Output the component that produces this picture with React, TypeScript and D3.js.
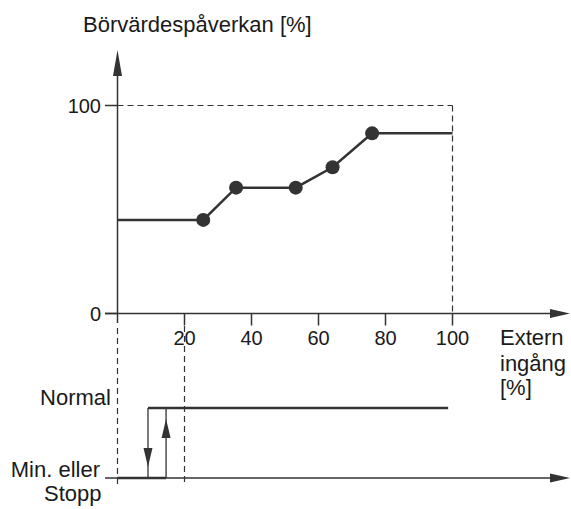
import React from "react";
import * as d3 from "d3";

const xTicks = [20, 40, 60, 80, 100];
const yTicks = [0, 100];
const curveX = [0, 25.6, 35.4, 53.2, 64.2, 76, 100];
const curveY = [45, 45, 60.5, 60.5, 70.3, 86.6, 86.6];
const markerIdx = [1, 2, 3, 4, 5];
const states = ["Normal", "Min"];
const switchOff = 9.1; // Normal -> Min
const switchOn = 14.5; // Min -> Normal
const normalEnd = 98.7;
const refLine = 20;

const W = 571;
const H = 509;
const INK = "#333";
const TXT = "#1a1a1a";
const FONT = "'Liberation Sans', Arial, sans-serif";

export default function App() {
  const x = d3.scaleLinear().domain([0, 100]).range([117.5, 452.5]);
  const y = d3.scaleLinear().domain([0, 100]).range([313.5, 105.5]);
  const sy = d3.scalePoint<string>().domain(states).range([408, 478]);

  const pts = curveX.map((v, i) => [x(v), y(curveY[i])] as [number, number]);
  const line = d3.line()(pts) || "";

  const x0 = x(0);
  const y0 = y(0);
  const yN = sy("Normal")!;
  const yM = sy("Min")!;
  const axisEnd = 570;
  const dash = "6,4";

  const arrowRight = (yy: number) =>
    `M${axisEnd},${yy} L${axisEnd - 20},${yy - 4.5} L${axisEnd - 20},${yy + 4.5} Z`;

  return (
    <svg width={W} height={H} style={{ position: "absolute", left: 0, top: 0, background: "#fff" }} fontFamily={FONT}>
      {/* title */}
      <text x={83} y={32} fontSize={22} fill={TXT}>Börvärdespåverkan [%]</text>

      {/* y axis */}
      <line x1={x0} x2={x0} y1={72} y2={323} stroke={INK} strokeWidth={1.5} />
      <path d={`M${x0},50 L${x0 - 4.5},76 L${x0 + 4.5},76 Z`} fill={INK} />
      {yTicks.map((t) => (
        <g key={"yt" + t}>
          <line x1={105} x2={x0} y1={y(t)} y2={y(t)} stroke={INK} strokeWidth={1.5} />
          <text x={101} y={y(t)} dy="0.35em" textAnchor="end" fontSize={20} fill={TXT}>{t}</text>
        </g>
      ))}

      {/* dashed frame */}
      <line x1={x0} x2={x(100)} y1={y(100)} y2={y(100)} stroke={INK} strokeWidth={1.2} strokeDasharray={dash} />
      <line x1={x(100)} x2={x(100)} y1={y(100)} y2={y0} stroke={INK} strokeWidth={1.2} strokeDasharray={dash} />

      {/* x axis */}
      <line x1={105} x2={axisEnd - 18} y1={y0} y2={y0} stroke={INK} strokeWidth={1.5} />
      <path d={arrowRight(y0)} fill={INK} />
      {xTicks.map((t) => (
        <g key={"xt" + t}>
          <line x1={x(t)} x2={x(t)} y1={y0} y2={y0 + 12} stroke={INK} strokeWidth={1.5} />
          <text x={x(t)} y={345} textAnchor="middle" fontSize={20} fill={TXT}>{t}</text>
        </g>
      ))}
      <text x={500} y={345} fontSize={22} fill={TXT}>Extern</text>
      <text x={500} y={371} fontSize={22} fill={TXT}>ingång</text>
      <text x={500} y={395} fontSize={22} fill={TXT}>[%]</text>

      {/* curve */}
      <path d={line} fill="none" stroke={INK} strokeWidth={2.5} />
      {markerIdx.map((i) => (
        <circle key={"m" + i} cx={pts[i][0]} cy={pts[i][1]} r={7} fill={INK} />
      ))}

      {/* lower panel dashed verticals */}
      <line x1={x0} x2={x0} y1={328} y2={486} stroke={INK} strokeWidth={1.2} strokeDasharray={dash} />
      <line x1={x(refLine)} x2={x(refLine)} y1={326} y2={486} stroke={INK} strokeWidth={1.2} strokeDasharray={dash} />

      {/* state labels */}
      <text x={111} y={405} textAnchor="end" fontSize={22} fill={TXT}>Normal</text>
      <text x={100} y={477} textAnchor="end" fontSize={22} fill={TXT}>Min. eller</text>
      <text x={44} y={501} fontSize={22} fill={TXT}>Stopp</text>

      {/* bottom axis */}
      <line x1={105} x2={axisEnd - 18} y1={yM} y2={yM} stroke={INK} strokeWidth={1.5} />
      <path d={arrowRight(yM)} fill={INK} />

      {/* hysteresis */}
      <line x1={x(0)} x2={x(switchOn)} y1={yM} y2={yM} stroke={INK} strokeWidth={2.5} />
      <line x1={x(switchOff)} x2={x(normalEnd)} y1={yN} y2={yN} stroke={INK} strokeWidth={2.5} />
      <line x1={x(switchOff)} x2={x(switchOff)} y1={yN} y2={yM} stroke={INK} strokeWidth={1.3} />
      <path d={`M${x(switchOff)},467 L${x(switchOff) - 4.5},448 L${x(switchOff) + 4.5},448 Z`} fill={INK} />
      <line x1={x(switchOn)} x2={x(switchOn)} y1={yN} y2={yM} stroke={INK} strokeWidth={1.3} />
      <path d={`M${x(switchOn)},419 L${x(switchOn) - 4.5},438 L${x(switchOn) + 4.5},438 Z`} fill={INK} />
    </svg>
  );
}
